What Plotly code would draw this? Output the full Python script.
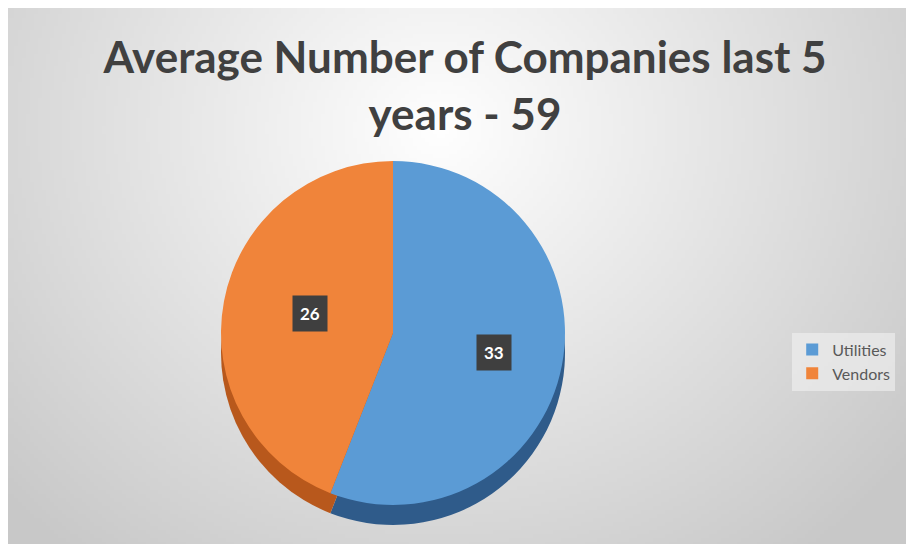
import base64, struct, zlib
import numpy as np
import plotly.graph_objects as go

# ---- data ----
categories = ["Utilities", "Vendors"]
values = [33, 26]
title_text = "Average Number of Companies last 5<br>years - 59"

colors_top = ["#5B9BD5", "#F0843A"]
colors_side = ["#2F5B8A", "#B8581C"]

W, H = 914, 544

# ---- radial gradient background (style only) ----
def png_data_uri(arr):
    h, w, _ = arr.shape
    raw = b"".join(b"\x00" + arr[i].tobytes() for i in range(h))
    def chunk(t, d):
        c = struct.pack(">I", len(d)) + t + d
        return c + struct.pack(">I", zlib.crc32(t + d) & 0xffffffff)
    png = b"\x89PNG\r\n\x1a\n" + chunk(b"IHDR", struct.pack(">IIBBBBB", w, h, 8, 2, 0, 0, 0)) \
        + chunk(b"IDAT", zlib.compress(raw, 9)) + chunk(b"IEND", b"")
    return "data:image/png;base64," + base64.b64encode(png).decode()

gw, gh = 229, 136
yy, xx = np.mgrid[0:gh, 0:gw]
cx, cy = gw * 0.47, gh * 0.22
d = np.sqrt(((xx - cx) / (gw * 0.62)) ** 2 + ((yy - cy) / (gh * 0.95)) ** 2)
v = np.clip(255 - 52 * d, 200, 255).astype(np.uint8)
img = np.stack([v, v, v], axis=-1)
bg_uri = png_data_uri(img)

# ---- pie geometry (pixels) ----
pcx, pcy, R = 385, 325, 172
depth = 20

def dom(cx_, cy_):
    return dict(x=[(cx_ - R) / W, (cx_ + R) / W],
                y=[(H - cy_ - R) / H, (H - cy_ + R) / H])

fig = go.Figure()
# side (shadow) layer
fig.add_trace(go.Pie(labels=categories, values=values, sort=False,
                     direction="clockwise", rotation=0,
                     marker=dict(colors=colors_side, line=dict(width=0)),
                     textinfo="none", hoverinfo="skip", showlegend=False,
                     domain=dom(pcx, pcy + depth)))
# top face
fig.add_trace(go.Pie(labels=categories, values=values, sort=False,
                     direction="clockwise", rotation=0,
                     marker=dict(colors=colors_top, line=dict(width=0)),
                     textinfo="none", showlegend=True,
                     domain=dom(pcx, pcy)))

# data labels at slice mid-angles
total = sum(values)
cum = 0
annotations = []
for val in values:
    mid = (cum + val / 2) / total * 2 * np.pi
    cum += val
    lx = pcx + 0.6 * R * np.sin(mid)
    ly = pcy - 0.6 * R * np.cos(mid)
    annotations.append(dict(x=lx / W, y=(H - ly) / H, xref="paper", yref="paper",
                            text=f"<b>{val}</b>", showarrow=False,
                            font=dict(family="Lato, 'Open Sans', sans-serif", size=17, color="white"),
                            bgcolor="#3F3F3F", borderpad=7))

fig.update_layout(
    width=W, height=H,
    margin=dict(l=0, r=0, t=0, b=0),
    paper_bgcolor="#e6e6e6",
    title=dict(text=title_text, x=0.5, xanchor="center", y=0.88, yanchor="top",
               font=dict(family="Lato, 'Open Sans', sans-serif", size=44, color="#404040", weight="bold")),
    legend=dict(x=0.858, y=0.35, xanchor="left", yanchor="middle",
                bgcolor="rgba(242,242,242,0.6)",
                font=dict(family="Lato, 'Open Sans', sans-serif", size=16, color="#595959"),
                itemsizing="constant"),
    annotations=annotations,
    images=[dict(source=bg_uri, xref="paper", yref="paper", x=0, y=1, sizex=1, sizey=1,
                 xanchor="left", yanchor="top", sizing="stretch", layer="below")],
)

fig.write_html("out.html")
